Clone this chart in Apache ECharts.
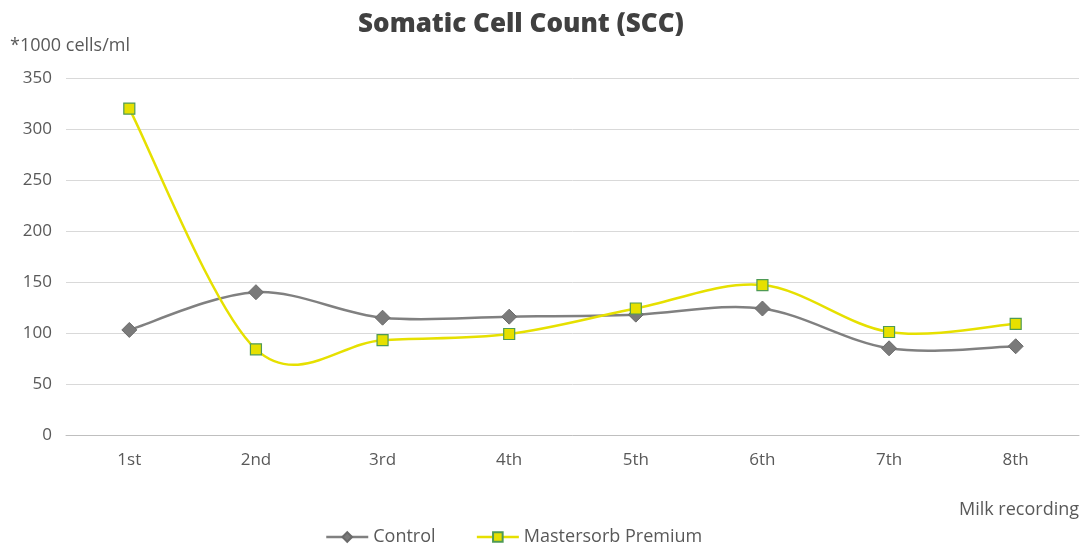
<!DOCTYPE html>
<html>
<head>
<meta charset="utf-8">
<script src="https://cdn.jsdelivr.net/npm/echarts@6/dist/echarts.min.js"></script>
<style>html,body{margin:0;padding:0;background:#fff}#c{width:1091px;height:545px}</style>
</head>
<body>
<div id="c"></div>
<script>
const categories = ['1st','2nd','3rd','4th','5th','6th','7th','8th'];
const controlValues = [103, 140, 115, 116, 118, 124, 85, 87];
const mastersorbValues = [320, 84, 93, 99, 124, 147, 101, 109];
const seriesNames = ['Control', 'Mastersorb Premium'];

const FONT = '"Open Sans", "Noto Sans", sans-serif';
const GRAY = '#808080';
const YELLOW = '#e6e000';

// Excel-like Catmull-Rom smoothing drawn through the chart's own coordinate system
function smoothRenderer(values, color) {
  return function (params, api) {
    const i = params.dataIndex;
    if (i >= values.length - 1) return null;
    const P = k => {
      const kk = Math.max(0, Math.min(values.length - 1, k));
      return api.coord([kk, values[kk]]);
    };
    const p0 = P(i - 1), p1 = P(i), p2 = P(i + 1), p3 = P(i + 2);
    return {
      type: 'bezierCurve',
      shape: {
        x1: p1[0], y1: p1[1], x2: p2[0], y2: p2[1],
        cpx1: p1[0] + (p2[0] - p0[0]) / 6, cpy1: p1[1] + (p2[1] - p0[1]) / 6,
        cpx2: p2[0] - (p3[0] - p1[0]) / 6, cpy2: p2[1] - (p3[1] - p1[1]) / 6
      },
      style: {stroke: color, lineWidth: 2.5, fill: null}
    };
  };
}

const chart = echarts.init(document.getElementById('c'));
chart.setOption({
  animation: false,
  title: {
    text: 'Somatic Cell Count (SCC)',
    left: 516, top: 7, textAlign: 'center',
    textStyle: {fontFamily: FONT, fontSize: 26, fontWeight: 800, color: '#404040'}
  },
  legend: {
    top: 523, left: 320,
    itemWidth: 42, itemHeight: 12, itemGap: 40,
    textStyle: {fontFamily: FONT, fontSize: 18, color: '#595959'},
    data: [
      {name: seriesNames[0], lineStyle: {color: GRAY, width: 2.5, opacity: 1}},
      {name: seriesNames[1], lineStyle: {color: YELLOW, width: 2.5, opacity: 1}}
    ]
  },
  grid: {left: 66, right: 12, top: 78, bottom: 110, containLabel: false},
  xAxis: {
    type: 'category', data: categories, boundaryGap: true,
    name: 'Milk recording', nameLocation: 'end',
    nameTextStyle: {fontFamily: FONT, fontSize: 18, color: '#595959', align: 'right', verticalAlign: 'top', padding: [66, 0, 0, 0]},
    nameGap: 0,
    axisLine: {lineStyle: {color: '#bfbfbf', width: 1}},
    axisTick: {show: false},
    axisLabel: {fontFamily: FONT, fontSize: 17, color: '#595959', margin: 17}
  },
  yAxis: {
    type: 'value', min: 0, max: 350, interval: 50,
    name: '*1000 cells/ml', nameLocation: 'end',
    nameTextStyle: {fontFamily: FONT, fontSize: 18, color: '#595959', align: 'left', padding: [0, 0, 3, -56]},
    nameGap: 20,
    axisLine: {show: false}, axisTick: {show: false},
    axisLabel: {fontFamily: FONT, fontSize: 17, color: '#595959', margin: 14},
    splitLine: {lineStyle: {color: '#d9d9d9', width: 1}}
  },
  series: [
    {
      type: 'custom', data: controlValues, silent: true, z: 2,
      renderItem: smoothRenderer(controlValues, GRAY)
    },
    {
      type: 'custom', data: mastersorbValues, silent: true, z: 2,
      renderItem: smoothRenderer(mastersorbValues, YELLOW)
    },
    {
      name: seriesNames[0], type: 'line', data: controlValues, z: 3,
      symbol: 'diamond', symbolSize: 15,
      lineStyle: {color: GRAY, width: 2.5, opacity: 0},
      itemStyle: {color: '#7a7a7a', borderColor: '#6a6a6a', borderWidth: 1}
    },
    {
      name: seriesNames[1], type: 'line', data: mastersorbValues, z: 4,
      symbol: 'rect', symbolSize: 11,
      lineStyle: {color: YELLOW, width: 2.5, opacity: 0},
      itemStyle: {color: YELLOW, borderColor: '#4f9a55', borderWidth: 1.2}
    }
  ]
});
</script>
</body>
</html>
